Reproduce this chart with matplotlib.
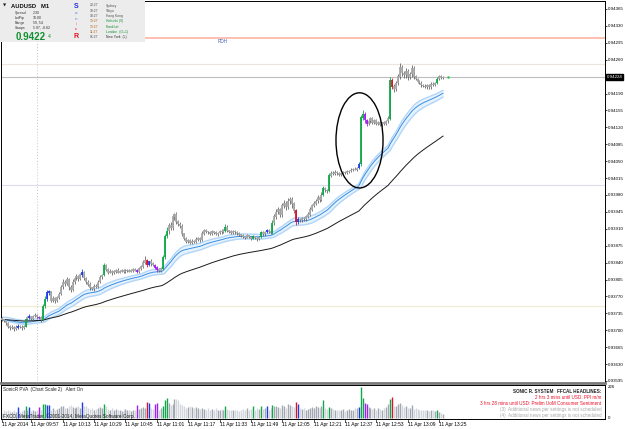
import numpy as np
import pandas as pd
import matplotlib
matplotlib.use("Agg")
import matplotlib.pyplot as plt
from matplotlib.patches import Ellipse, Rectangle

plt.rcParams['font.family'] = ['Liberation Sans', 'DejaVu Sans']

# AUDUSD M1, 11 Apr 2014 09:42 .. 13:27, prices in points above 0.93000
first_open = 724
close_pts = [
    722, 720, 715, 708, 705, 707, 704, 706, 709, 707,
    705, 708, 723, 726, 728, 724, 729, 732, 727, 726,
    722, 750, 765, 778, 780, 762, 766, 760, 768, 775,
    790, 800, 796, 805, 790, 784, 800, 808, 812, 806,
    815, 820, 808, 800, 795, 788, 786, 792, 790, 800,
    810, 814, 834, 826, 820, 823, 818, 822, 825, 820,
    822, 824, 821, 823, 825, 822, 824, 826, 824, 822,
    828, 832, 840, 845, 836, 842, 838, 835, 830, 826,
    824, 828, 852, 895, 905, 918, 912, 935, 940, 925,
    920, 916, 900, 890, 884, 886, 882, 885, 884, 888,
    890, 887, 900, 906, 904, 903, 900, 904, 902, 899,
    901, 905, 903, 906, 914, 906, 904, 902, 905, 903,
    901, 898, 896, 894, 892, 896, 893, 890, 894, 891,
    889, 893, 902, 899, 903, 906, 904, 902, 922, 935,
    945, 950, 940, 958, 962, 955, 968, 972, 962, 948,
    925, 930, 928, 932, 930, 935, 940, 950, 958, 962,
    968, 975, 970, 980, 993, 990, 988, 1020, 1026, 1024,
    1028, 1025, 1022, 1024, 1027, 1026, 1029, 1030, 1032, 1034,
    1033, 1036, 1044, 1140, 1148, 1135, 1128, 1133, 1138, 1130,
    1134, 1128, 1131, 1126, 1130, 1128, 1133, 1138, 1218, 1205,
    1200, 1212, 1225, 1245, 1232, 1228, 1236, 1224, 1230, 1242,
    1225, 1220, 1215, 1212, 1208, 1206, 1204, 1207, 1203, 1210,
    1208, 1212, 1220, 1226, 1223, 1224,
]
up_wick = [
    3, 2, 4, 3, 2, 3, 2, 4, 3, 2, 3, 2, 4, 3, 5, 2, 3, 4, 2, 3,
    3, 4, 5, 6, 3, 2, 4, 3, 3, 5, 4, 6, 3, 5, 4, 3, 6, 4, 5, 3,
    4, 6, 3, 2, 3, 4, 2, 3, 3, 5, 4, 3, 6, 3, 2, 3, 2, 3, 2, 3,
    2, 3, 2, 3, 2, 2, 3, 2, 3, 2, 3, 4, 6, 8, 3, 2, 5, 3, 2, 3,
    2, 3, 4, 5, 8, 5, 6, 5, 3, 4, 3, 4, 3, 2, 3, 2, 3, 3, 2, 4,
    3, 2, 5, 4, 3, 2, 3, 4, 2, 3, 3, 2, 4, 3, 5, 3, 2, 3, 2, 3,
    2, 3, 2, 3, 2, 3, 2, 3, 4, 2, 3, 2, 4, 3, 2, 4, 3, 2, 6, 5,
    6, 5, 4, 6, 8, 5, 6, 4, 3, 4, 3, 4, 2, 3, 2, 3, 4, 5, 4, 5,
    4, 5, 3, 6, 5, 4, 3, 5, 4, 3, 3, 2, 3, 2, 3, 2, 3, 2, 3, 2,
    3, 2, 4, 6, 8, 4, 3, 5, 4, 3, 3, 4, 3, 3, 2, 4, 3, 5, 6, 4,
    5, 4, 6, 8, 5, 4, 6, 5, 4, 7, 4, 3, 3, 2, 3, 2, 3, 2, 3, 4,
    3, 2, 4, 3, 2, 2,
]
down_wick = [
    2, 3, 4, 3, 4, 3, 5, 4, 3, 3, 4, 3, 2, 3, 2, 3, 4, 2, 3, 3,
    4, 2, 3, 4, 5, 3, 4, 3, 2, 3, 3, 4, 5, 3, 6, 4, 3, 4, 3, 4,
    3, 4, 5, 4, 3, 5, 3, 4, 3, 3, 2, 3, 2, 4, 3, 2, 3, 2, 3, 2,
    2, 2, 3, 2, 3, 2, 2, 3, 2, 3, 3, 3, 4, 3, 5, 3, 4, 3, 4, 5,
    3, 4, 3, 4, 5, 6, 5, 4, 6, 5, 4, 5, 4, 3, 4, 3, 3, 4, 3, 3,
    3, 4, 3, 2, 3, 4, 2, 3, 3, 2, 3, 2, 3, 2, 3, 3, 2, 3, 3, 4,
    3, 2, 3, 4, 3, 2, 3, 4, 2, 3, 4, 3, 2, 3, 3, 2, 3, 3, 2, 4,
    5, 4, 6, 5, 4, 7, 5, 6, 8, 6, 7, 5, 4, 3, 4, 3, 2, 3, 4, 3,
    3, 4, 5, 3, 3, 4, 3, 2, 3, 3, 2, 3, 2, 3, 2, 3, 2, 3, 2, 3,
    2, 3, 2, 3, 4, 6, 5, 4, 5, 4, 3, 4, 3, 4, 3, 3, 4, 3, 2, 6,
    7, 5, 4, 5, 6, 5, 6, 5, 4, 5, 4, 3, 4, 3, 4, 3, 2, 4, 3, 3,
    3, 2, 2, 3, 2, 2,
]
volume = [
    40, 55, 48, 62, 50, 45, 58, 42, 82, 47,
    52, 60, 85, 55, 80, 48, 62, 50, 55, 78,
    60, 105, 100, 95, 92, 60, 70, 55, 65, 72,
    85, 90, 70, 75, 88, 95, 80, 70, 78, 85,
    75, 115, 90, 85, 72, 65, 70, 60, 68, 75,
    80, 70, 100, 85, 68, 60, 72, 55, 65, 58,
    62, 50, 58, 66, 55, 60, 48, 57, 62, 95,
    65, 72, 80, 70, 118, 112, 70, 68, 105, 108,
    60, 72, 90, 130, 146, 110, 95, 105, 140, 135,
    130, 100, 92, 88, 75, 80, 85, 78, 70, 82,
    72, 65, 70, 68, 60, 74, 58, 66, 62, 70,
    55, 60, 68, 62, 90, 66, 58, 62, 55, 60,
    58, 52, 60, 66, 62, 70, 58, 65, 88, 60,
    72, 64, 90, 68, 75, 85, 60, 70, 92, 85,
    90, 80, 75, 95, 88, 70, 100, 92, 85, 78,
    115, 100, 72, 65, 70, 60, 68, 75, 80, 72,
    85, 78, 70, 90, 130, 75, 68, 82, 70, 65,
    60, 55, 62, 58, 66, 52, 60, 64, 58, 62,
    70, 70, 78, 226, 146, 110, 105, 80, 72, 68,
    75, 62, 70, 66, 58, 72, 80, 100, 140, 155,
    90, 85, 100, 110, 95, 80, 88, 75, 70, 92,
    68, 72, 65, 60, 58, 62, 55, 60, 52, 58,
    55, 50, 62, 45, 35, 28,
]
# PVA bar types (others are normal)
special_bars = {8: 'B', 12: 'G', 14: 'B', 19: 'P', 21: 'G', 22: 'G', 23: 'B', 24: 'B',
                41: 'B', 52: 'G', 69: 'P', 74: 'R', 75: 'B', 78: 'P', 79: 'P',
                82: 'G', 83: 'G', 84: 'G', 114: 'G', 128: 'G', 132: 'G', 135: 'B',
                138: 'G', 150: 'R', 151: 'B', 164: 'G', 167: 'G', 182: 'B', 183: 'G',
                184: 'G', 185: 'P', 186: 'P', 198: 'G', 199: 'R', 222: 'G'}

time_label_bars = [0, 15, 31, 47, 63, 79, 95, 111, 127, 143, 159, 175, 191, 207, 223]
time_labels = ["11 Apr 2014", "11 Apr 09:57", "11 Apr 10:13", "11 Apr 10:29", "11 Apr 10:45",
               "11 Apr 11:01", "11 Apr 11:17", "11 Apr 11:33", "11 Apr 11:49", "11 Apr 12:05",
               "11 Apr 12:21", "11 Apr 12:37", "11 Apr 12:53", "11 Apr 13:09", "11 Apr 13:25"]
separator_bar = 18  # 10:00

bid = 0.94224
rdh_level = 0.94305
other_levels = [0.94251, 0.94001, 0.93750]
other_colors = ['#ece6dc', '#dcdcf2', '#f0ecd0']

# circle drawn around the spike
ellipse_center = (182.4, 0.94093)
ellipse_size = (24.0, 0.00197)

type_colors = {'G': '#10a848', 'B': '#1c3ce8', 'R': '#e0102c', 'P': '#a020f0'}

# ---- prepare data
x = np.arange(len(close_pts))
c = np.array(close_pts, dtype=float)
o = np.array([first_open] + close_pts[:-1], dtype=float)
hi = np.maximum(o, c) + np.array(up_wick)
lo = np.minimum(o, c) - np.array(down_wick)
c, o, hi, lo = [0.93 + v / 1e5 for v in (c, o, hi, lo)]
types = [special_bars.get(i, '.') for i in x]

ema_c = pd.Series(c).ewm(span=34, adjust=False).mean()
ema_h = pd.Series(hi).ewm(span=34, adjust=False).mean()
ema_l = pd.Series(lo).ewm(span=34, adjust=False).mean()
ema_slow = pd.Series(c).ewm(span=89, adjust=False).mean()

W, H = 625, 429
fig = plt.figure(figsize=(W / 100, H / 100), dpi=100)
fig.patch.set_facecolor('white')

ax = fig.add_axes([1 / W, (H - 383) / H, 604 / W, 382 / H])
ax.set_xlim(-0.51, 307.65)
ax.set_ylim(0.9359078, 0.9438156)

# levels
ax.axhline(rdh_level, color='#ffb4a6', lw=1.2, zorder=1)
ax.text(110, rdh_level - 0.00003, 'RDH', color='#4060b0', fontsize=3.3, va='top', ha='left')
for lv, col in zip(other_levels, other_colors):
    ax.axhline(lv, color=col, lw=0.8, zorder=1)
ax.axhline(bid, color='#bdbdbd', lw=0.8, zorder=1)
ax.axvline(separator_bar, color='#c4c4c4', lw=0.7, ls=(0, (1, 2)), zorder=1)

# dragon band + slow EMA
ax.fill_between(x, ema_l, ema_h, color='#e6f2fd', lw=0, zorder=2)
ax.plot(x, ema_h, color='#b2d6f8', lw=1.0, zorder=2)
ax.plot(x, ema_l, color='#b2d6f8', lw=1.0, zorder=2)
ax.plot(x, ema_c, color='#3a8ee6', lw=0.7, zorder=3)
ax.plot(x, ema_slow, color='#1a1a1a', lw=0.7, zorder=3)

# candles
wick_cols = [type_colors.get(t, '#646464') for t in types]
body_cols = [type_colors.get(t, '#a8a8a8') for t in types]
body_top = np.maximum(o, c) + 0.000005
body_bot = np.minimum(o, c) - 0.000005
ax.vlines(x, lo, hi, colors=wick_cols, lw=0.6, zorder=4)
ax.vlines(x, body_bot, body_top, colors=body_cols, lw=1.3, zorder=5)
ax.scatter([x[-1] + 2.5], [bid], s=3, color='#20c040', zorder=6, lw=0)

ax.add_patch(Ellipse(ellipse_center, ellipse_size[0], ellipse_size[1],
                     fill=False, ec='black', lw=1.0, zorder=7))

# price scale on the right
ax.yaxis.tick_right()
ax.set_yticks(np.round(0.93595 + 0.00035 * np.arange(23), 5))
ax.set_yticklabels(['%.5f' % v for v in ax.get_yticks()], fontsize=3.2)
ax.tick_params(axis='y', length=1.5, width=0.5, pad=0.6)
ax.set_xticks([])
for s in ['left', 'top', 'right']:
    ax.spines[s].set_linewidth(0.7)
ax.spines['bottom'].set_color('#7a7a7a')
ax.spines['bottom'].set_linewidth(2)
ax.text(1.0025, bid, '%.5f' % bid, transform=ax.get_yaxis_transform(), fontsize=3.2,
        color='white', va='center', ha='left',
        bbox=dict(boxstyle='square,pad=0.15', fc='black', ec='black'))

# volume pane
ax2 = fig.add_axes([1 / W, 10 / H, 604 / W, 34 / H])
ax2.set_xlim(-0.51, 307.65)
ax2.set_ylim(-7, 240)
vol_cols = []
for i, t in enumerate(types):
    if t in type_colors:
        vol_cols.append(type_colors[t])
    elif c[i] >= o[i]:
        vol_cols.append('#a2a8b2')
    else:
        vol_cols.append('#d3d7dd')
ax2.vlines(x, 0, volume, colors=vol_cols, lw=1.0)
ax2.set_xticks([])
ax2.set_yticks([])
for s in ax2.spines.values():
    s.set_linewidth(0.7)
ax2.text(1.004, 226, '226', transform=ax2.get_yaxis_transform(), fontsize=3.2, va='center')
ax2.text(1.004, 0, '0', transform=ax2.get_yaxis_transform(), fontsize=3.2, va='center')
ax2.text(0.004, 0.86, 'SonicR PVA  (Chart Scale 2)   Alert On', transform=ax2.transAxes,
         fontsize=3.3, va='center', color='#202020')
ax2.text(0.004, 0.07, 'FXCO, MetaTrader, \u00a92001-2014, MetaQuotes Software Corp.',
         transform=ax2.transAxes, fontsize=3.4, va='center', color='#202020')
news = [('SONIC R. SYSTEM   FFCAL HEADLINES:', '#202020', 'bold'),
        ('2 hrs 3 mins until USD: PPI m/m', '#e8102a', 'normal'),
        ('3 hrs 28 mins until USD: Prelim UoM Consumer Sentiment', '#e8102a', 'normal'),
        ('(3)  Additional news per settings is not scheduled', '#a8a8a8', 'normal'),
        ('(4)  Additional news per settings is not scheduled', '#a8a8a8', 'normal')]
for k, (txt, col, wt) in enumerate(news):
    ax2.text(0.994, 0.82 - k * 0.18, txt, transform=ax2.transAxes, fontsize=3.3,
             ha='right', va='center', color=col, fontweight=wt)

# time labels
for b, lab in zip(time_label_bars, time_labels):
    ax2.text(b, -0.15, lab, transform=ax2.get_xaxis_transform(), fontsize=3.5,
             ha='left', va='center')
    ax2.plot([b, b], [-0.02, -0.08], transform=ax2.get_xaxis_transform(),
             color='black', lw=0.5, clip_on=False)


# info panel top-left (pixel positions from top-left corner)
def ftxt(px, py, s, **kw):
    fig.text(px / W, 1 - py / H, s, va='center', **kw)


fig.patches.append(Rectangle((0, 1 - 42 / H), 145 / W, 42 / H, transform=fig.transFigure,
                             facecolor='#ececec', edgecolor='none', zorder=1))
ftxt(3, 5.5, '\u25bc', fontsize=3, color='#202020', family=['DejaVu Sans'])
ftxt(11, 6, 'AUDUSD   M1', fontsize=4.2, fontweight='bold', color='#101010')
rows = [('Spread', '2.30'), ('LotPip', '10.00'), ('Range', '59, 54'), ('Swaps', '5.97, -8.82')]
for k, (a, b) in enumerate(rows):
    ftxt(15, 13 + 5 * k, a, fontsize=2.5, color='#303030')
    ftxt(33, 13 + 5 * k, b, fontsize=2.5, color='#303030')
ftxt(16, 36.5, '0.9422', fontsize=7, fontweight='bold', color='#109030')
ftxt(48, 37, '4', fontsize=3.6, color='#109030')
sonic = [('S', '#2030e0', 5, 6), ('o', '#7090f0', 3, 13), ('n', '#9a9af0', 3, 18.5),
         ('i', '#f080b0', 3, 24), ('c', '#f04070', 3, 29.5), ('R', '#e01020', 5, 36.5)]
for s, col, fs, py in sonic:
    ftxt(76, py, s, fontsize=fs, fontweight='bold', color=col, ha='center')
clocks = [('20:27', 'Sydney', '#505050', '#505050'),
          ('18:27', 'Tokyo', '#505050', '#505050'),
          ('18:27', 'Hong Kong', '#505050', '#505050'),
          ('13:27', 'Helsinki (9)', '#b06010', '#109030'),
          ('13:27', 'Frankfurt', '#b06010', '#109030'),
          ('11:27', 'London  (O+1)', '#b06010', '#109030'),
          ('06:27', 'New York  (L)', '#505050', '#303030')]
for k, (t, city, c1, c2) in enumerate(clocks):
    ftxt(90, 5.5 + 5.3 * k, t, fontsize=2.4, color=c1)
    ftxt(106, 5.5 + 5.3 * k, city, fontsize=2.4, color=c2)

fig.savefig('out.png', dpi=100)
